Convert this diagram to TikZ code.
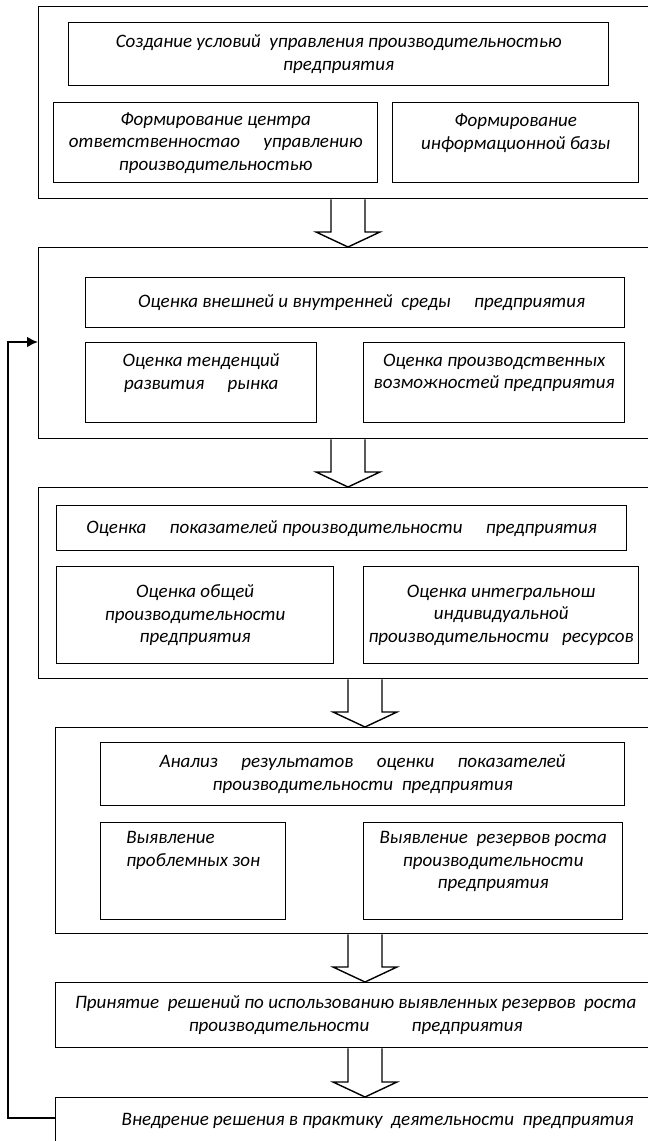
\documentclass[tikz,border=0pt]{standalone}
\usepackage{fontspec}
\setmainfont{Carlito}
\usetikzlibrary{calc,arrows.meta}
\newcommand\blockarr[3]{%
  \draw[blk] let \p1=(#1.south), \p2=(#2.north) in
    (#3-17,\y1) -- (#3-17,\y2+15pt) -- (#3-32,\y2+15pt) -- (#3,\y2)
    -- (#3+32,\y2+15pt) -- (#3+17,\y2+15pt) -- (#3+17,\y1);}
\begin{document}
\begin{tikzpicture}[x=1pt,y=-1pt,
  box/.style={draw, line width=1.4pt, anchor=north west, inner sep=0pt,
    font=\fontsize{19}{22.5}\selectfont\itshape, align=center},
  blk/.style={line width=1.4pt, line join=miter},
  fb/.style={line width=2.4pt, -{Latex[length=11pt,width=11pt]}}]
\useasboundingbox (0,0) rectangle (648,1141);
\clip (0,0) rectangle (648,1141);
\fill[white] (0,0) rectangle (648,1141);
% block 1
\node[box, minimum width=622, minimum height=192] (o1) at (38,6) {};
\node[box, minimum width=540, minimum height=63] (b11) at (68,22)
  {Создание условий \ управления производительностью\\ предприятия};
\node[box, minimum width=324, minimum height=80] (b12) at (53,102)
  {Формирование центра\\ ответственностао \quad управлению\\ производительностью};
\node[box, minimum width=246, minimum height=80] (b13) at (392,102)
  {Формирование\\ информационной базы\\ \mbox{}};
% block 2
\node[box, minimum width=622, minimum height=191] (o2) at (38,247) {};
\node[box, minimum width=539, minimum height=50] (b21) at (85,277)
  {\ \ \ Оценка внешней и внутренней \ среды \quad предприятия};
\node[box, minimum width=231, minimum height=80] (b22) at (85,342)
  {Оценка тенденций\\ развития \quad рынка\\ \mbox{}};
\node[box, minimum width=261, minimum height=80] (b23) at (363,342)
  {Оценка производственных\\ возможностей предприятия\\ \mbox{}};
% block 3
\node[box, minimum width=622, minimum height=191] (o3) at (38,487) {};
\node[box, minimum width=570, minimum height=45] (b31) at (56,505)
  {Оценка \quad показателей производительности \quad предприятия};
\node[box, minimum width=277, minimum height=97] (b32) at (56,566)
  {Оценка общей\\ производительности\\ предприятия};
\node[box, minimum width=275, minimum height=97] (b33) at (363,566)
  {Оценка интегральнош\\ индивидуальной\\ производительности \ \ ресурсов};
% block 4
\node[box, minimum width=605, minimum height=206] (o4) at (55,727) {};
\node[box, minimum width=524, minimum height=63] (b41) at (100,742)
  {Анализ \quad результатов \quad оценки \quad показателей\\ производительности \ предприятия};
\node[box, minimum width=185, minimum height=97, align=left] (b42) at (100,822)
  {Выявление\\ проблемных зон\\ \mbox{}\\ \mbox{}};
\node[box, minimum width=259, minimum height=97] (b43) at (363,822)
  {Выявление \ резервов роста\\ производительности\\ предприятия\\ \mbox{}};
% block 5, 6
\node[box, minimum width=600, minimum height=65] (b5) at (55,982)
  {Принятие \ решений по использованию выявленных резервов \ роста\\ производительности \qquad предприятия};
\node[box, minimum width=644, minimum height=46] (b6) at (55,1097)
  {Внедрение решения в практику \ деятельности \ предприятия};
% block arrows
\blockarr{o1}{o2}{348}
\blockarr{o2}{o3}{348}
\blockarr{o3}{o4}{365}
\blockarr{o4}{b5}{365}
\blockarr{b5}{b6}{365}
% feedback
\coordinate (fbs) at ($(b6.north west)+(0,21)$);
\coordinate (fbe) at ($(o2.north west)+(0,95)$);
\draw[fb] (fbs) -- ++(-47,0) |- (fbe);
\end{tikzpicture}
\end{document}
